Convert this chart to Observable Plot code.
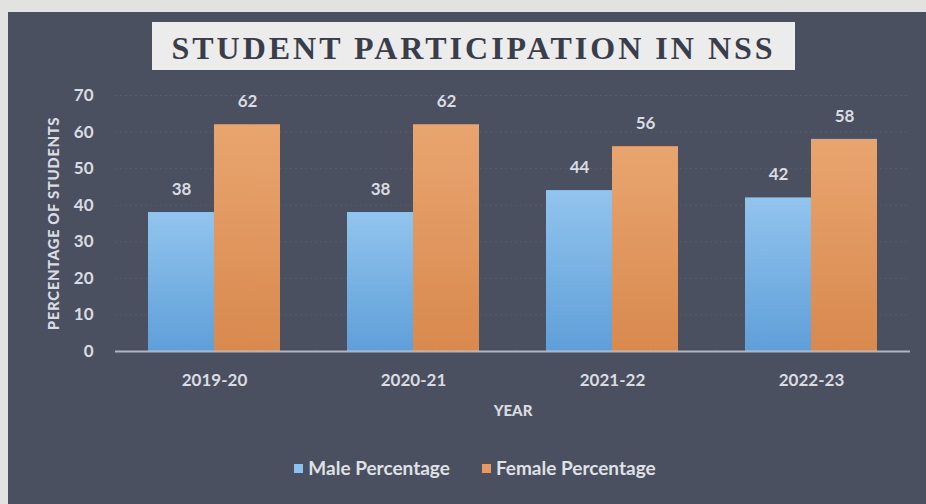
<!DOCTYPE html>
<html>
<head>
<meta charset="utf-8">
<script src="https://cdn.jsdelivr.net/npm/d3@7"></script>
<script src="https://cdn.jsdelivr.net/npm/@observablehq/plot@0.6"></script>
<style>
  html, body { margin: 0; padding: 0; width: 926px; height: 504px; overflow: hidden; background: #e2e2e0; }
  #panel { position: absolute; left: 8px; top: 12px; width: 918px; height: 492px; background: #4b5060; }
  #title { position: absolute; left: 152px; top: 22px; width: 643px; height: 48px; background: #ececec;
           font-family: "Liberation Serif", "DejaVu Serif", serif; font-weight: bold; font-size: 32px;
           color: #3a3e4a; letter-spacing: 3px; text-align: center; line-height: 52px; }
  #chart { position: absolute; left: 0; top: 80px; }
  #legend { position: absolute; top: 456px; left: 0; width: 950px; text-align: center;
            font-family: Lato, "Open Sans", sans-serif; font-weight: bold; font-size: 19px; color: #dfe1e6; }
  .item { display: inline-block; margin: 0 16px; }
  .sw { display: inline-block; width: 9px; height: 9px; margin-right: 5px; vertical-align: 2px; }
</style>
</head>
<body>
<div id="panel"></div>
<div id="title">STUDENT PARTICIPATION IN NSS</div>
<div id="chart"></div>
<div id="legend"></div>
<script>
const years = ["2019-20", "2020-21", "2021-22", "2022-23"];
const male = [38, 38, 44, 42];
const female = [62, 62, 56, 58];
const seriesNames = ["Male Percentage", "Female Percentage"];
const yTicks = [0, 10, 20, 30, 40, 50, 60, 70];

const maleData = years.map((y, i) => ({year: y, value: male[i]}));
const femaleData = years.map((y, i) => ({year: y, value: female[i]}));

const half = 66;
const labelColor = "#d9dce2";

const plot = Plot.plot({
  width: 926,
  height: 350,
  marginLeft: 115,
  marginRight: 16,
  marginTop: 15,
  marginBottom: 79,
  style: {background: "transparent", fontFamily: "Lato, 'Open Sans', sans-serif", color: labelColor},
  x: {domain: years, paddingInner: 0.337, paddingOuter: 0.16, label: null},
  y: {domain: [0, 70], label: null},
  marks: [
    Plot.gridY(yTicks, {stroke: "#ffffff", strokeOpacity: 0.07, strokeDasharray: "2,3"}),
    Plot.barY(maleData, {x: "year", y: "value", insetRight: half, fill: "url(#gMale)"}),
    Plot.barY(femaleData, {x: "year", y: "value", insetLeft: half, fill: "url(#gFemale)"}),
    Plot.ruleY([0], {stroke: "#c9ccd3", strokeWidth: 2, strokeOpacity: 0.8}),
    Plot.text(maleData, {x: "year", y: "value", text: d => String(d.value), dx: -33, dy: -23,
      fill: labelColor, fontWeight: "bold", fontSize: 17}),
    Plot.text(femaleData, {x: "year", y: "value", text: d => String(d.value), dx: 33, dy: -23,
      fill: labelColor, fontWeight: "bold", fontSize: 17}),
    Plot.axisY(yTicks, {tickSize: 0, tickPadding: 22, fontSize: 17, fontWeight: "bold", fill: labelColor,
      label: "PERCENTAGE OF STUDENTS", labelAnchor: "center", labelOffset: 67}),
    Plot.axisX({tickSize: 0, tickPadding: 22, fontSize: 17, fontWeight: "bold", fill: labelColor,
      label: "YEAR", labelAnchor: "center", labelOffset: 64})
  ]
});

// gradients
const svg = d3.select(plot);
const defs = svg.insert("defs", ":first-child");
const g1 = defs.append("linearGradient").attr("id", "gMale").attr("x1", 0).attr("y1", 0).attr("x2", 0).attr("y2", 1);
g1.append("stop").attr("offset", "0%").attr("stop-color", "#92c4ee");
g1.append("stop").attr("offset", "100%").attr("stop-color", "#5f9fd8");
const g2 = defs.append("linearGradient").attr("id", "gFemale").attr("x1", 0).attr("y1", 0).attr("x2", 0).attr("y2", 1);
g2.append("stop").attr("offset", "0%").attr("stop-color", "#e9a56f");
g2.append("stop").attr("offset", "100%").attr("stop-color", "#d8894e");

// style axis labels
svg.selectAll("[aria-label='y-axis label'] text, [aria-label='x-axis label'] text")
  .attr("font-size", 15).attr("font-weight", "900").attr("fill", labelColor)
  .each(function() { this.textContent = this.textContent.replace(/\s*[↑→←↓]\s*/g, "").trim(); });
svg.selectAll("[aria-label='y-axis label'] text").attr("letter-spacing", "0.6px");

document.getElementById("chart").appendChild(plot);

const colors = ["#8ec2ec", "#e49a62"];
const legend = document.getElementById("legend");
seriesNames.forEach((n, i) => {
  const s = document.createElement("span");
  s.className = "item";
  s.innerHTML = `<span class="sw" style="background:${colors[i]}"></span>${n}`;
  legend.appendChild(s);
});
</script>
</body>
</html>
